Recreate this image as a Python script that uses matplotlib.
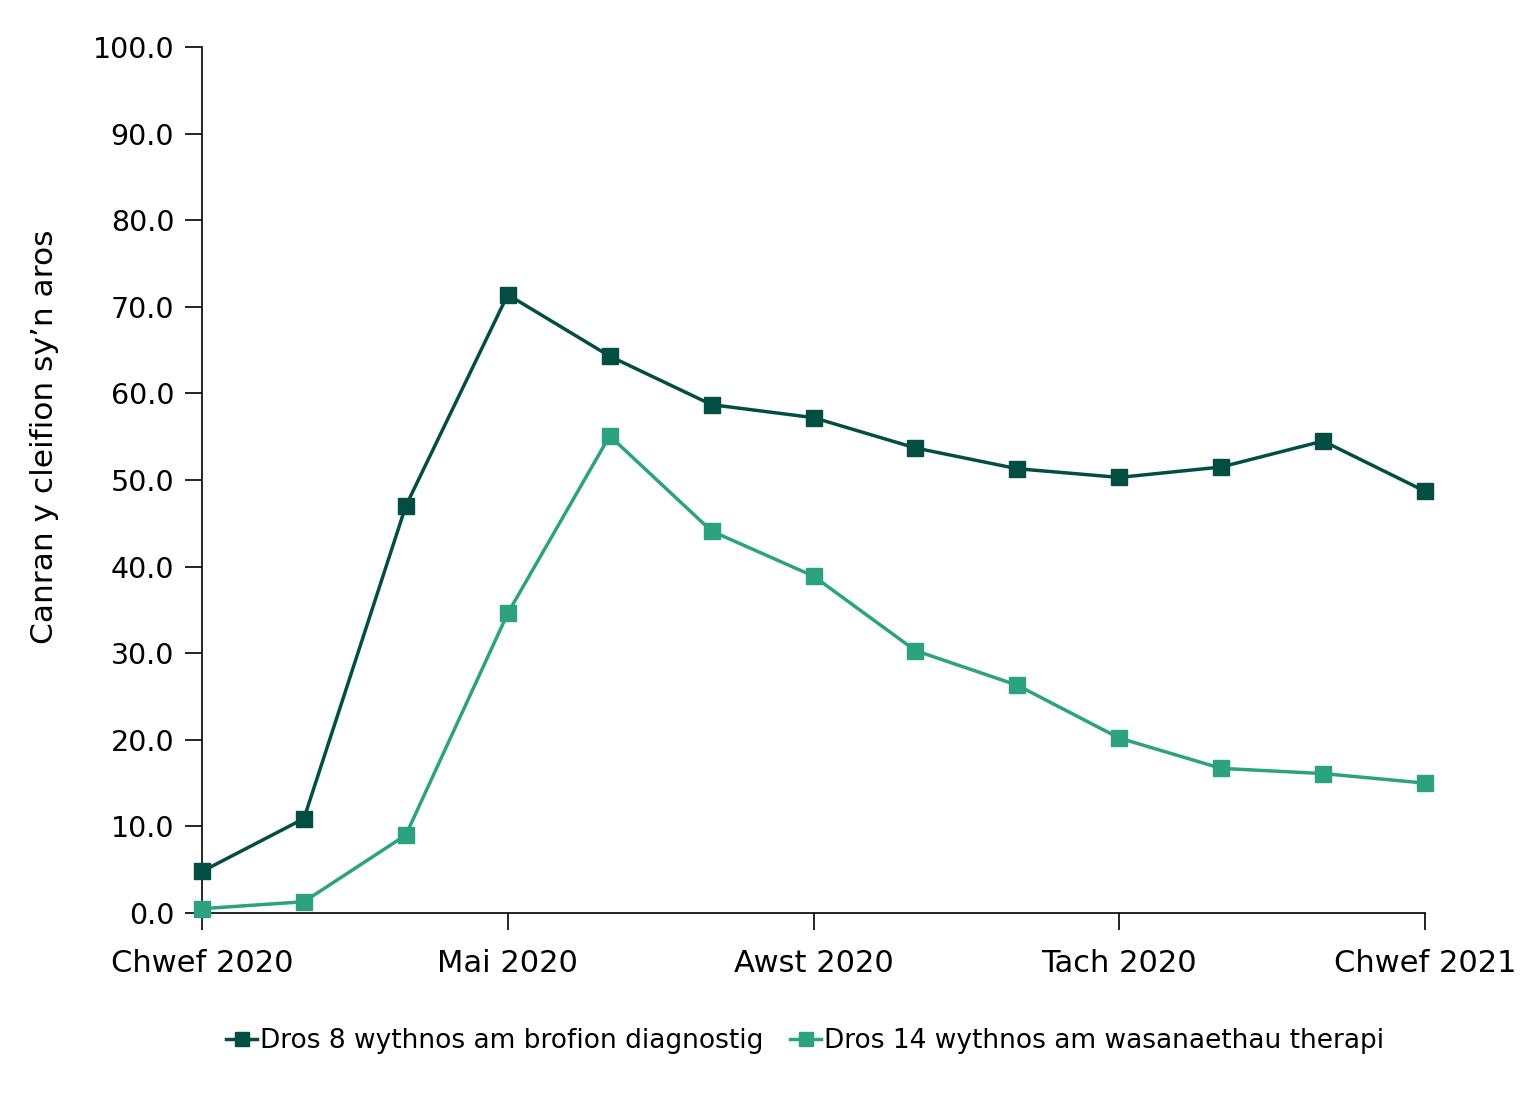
import matplotlib.pyplot as plt
from matplotlib.ticker import FixedLocator, FuncFormatter

months = ["Chwef 2020", "Maw 2020", "Ebr 2020", "Mai 2020", "Meh 2020", "Gorff 2020",
          "Awst 2020", "Medi 2020", "Hyd 2020", "Tach 2020", "Rhag 2020", "Ion 2021",
          "Chwef 2021"]
diagnostic = [4.8, 10.9, 47.0, 71.4, 64.3, 58.7, 57.2, 53.7, 51.3, 50.3, 51.5, 54.5, 48.7]
therapy = [0.5, 1.3, 9.0, 34.6, 55.1, 44.1, 38.9, 30.3, 26.3, 20.2, 16.7, 16.1, 15.0]
label_diag = "Dros 8 wythnos am brofion diagnostig"
label_ther = "Dros 14 wythnos am wasanaethau therapi"

dark = "#034e42"
light = "#2ca37e"

plt.rcParams['font.family'] = ['DejaVu Sans']

fig = plt.figure(figsize=(15.31, 10.97), dpi=100)
ax = fig.add_axes([202 / 1531, 1 - 913 / 1097, (1425 - 202) / 1531, (913 - 47) / 1097])

x = list(range(len(months)))
ax.plot(x, diagnostic, color=dark, lw=2.5, marker='s', ms=12, label=label_diag, clip_on=False, zorder=3)
ax.plot(x, therapy, color=light, lw=2.5, marker='s', ms=12, label=label_ther, clip_on=False, zorder=3)

ax.set_xlim(0, len(months) - 1)
ax.set_ylim(0, 100)
ax.set_yticks(range(0, 101, 10))
ax.yaxis.set_major_formatter(FuncFormatter(lambda v, p: f"{v:.1f}"))
ax.xaxis.set_major_locator(FixedLocator(x[::3]))
ax.set_xticklabels(months[::3])

for s in ["top", "right"]:
    ax.spines[s].set_visible(False)
ax.spines["left"].set_linewidth(1.2)
ax.spines["bottom"].set_linewidth(1.2)
ax.tick_params(axis='both', length=12, width=1.2, direction='out')
ax.tick_params(axis='x', labelsize=22, pad=14)
ax.tick_params(axis='y', labelsize=20.5, pad=8)

ax.set_ylabel("Canran y cleifion sy\u2019n aros", fontsize=22.5)
ax.yaxis.set_label_coords(-0.117, 0.55)

ax.legend(loc='center', bbox_to_anchor=(0.493, -0.148), ncol=2, frameon=False,
          fontsize=19, handlelength=1.2, handletextpad=0.1, columnspacing=1.0,
          markerscale=0.8)

fig.savefig("out.png", dpi=100)
